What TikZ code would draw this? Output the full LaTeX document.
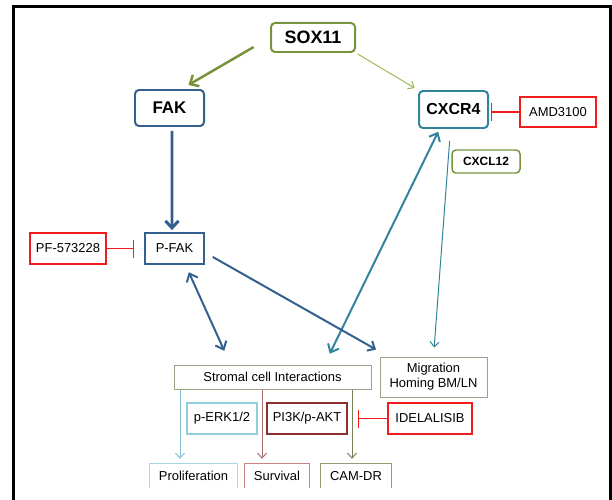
\documentclass[tikz,border=0pt]{standalone}
\usepackage{fontspec}
\setmainfont{Liberation Sans}
\usetikzlibrary{positioning,arrows.meta,calc}
\definecolor{soxGreen}{HTML}{77933C}
\definecolor{soxLight}{HTML}{9BBB59}
\definecolor{fakBlue}{HTML}{34608F}
\definecolor{cxTeal}{HTML}{31849B}
\definecolor{inhRed}{HTML}{F21C1C}
\definecolor{strGrey}{HTML}{9CA283}
\definecolor{erkBlue}{HTML}{93CDDD}
\definecolor{aktRed}{HTML}{8C2F2F}
\definecolor{prolBlue}{HTML}{A8D6E6}
\definecolor{survRed}{HTML}{C98383}
\definecolor{camOlive}{HTML}{76825A}
\definecolor{camEdge}{HTML}{939C74}

\begin{document}
\begin{tikzpicture}[
  x=1bp, y=-1bp,
  font=\fontsize{13}{15}\selectfont,
  rbx/.style={rounded corners=4pt, line width=2pt, inner sep=0pt, font=\fontsize{17}{19}\selectfont\bfseries},
  sbx/.style={line width=1.5pt, inner sep=0pt, minimum height=31bp},
  inh/.style={draw=inhRed, line width=1.5pt, inner sep=0pt, minimum height=31bp},
  thinbx/.style={draw=strGrey, line width=1pt, inner sep=0pt},
  outbx/.style={inner sep=0pt, minimum height=24bp},
  big/.style={-{Straight Barb[length=7bp,width=13bp]}, line width=2.5pt},
  both/.style={{Straight Barb[length=7bp,width=12bp]}-{Straight Barb[length=7bp,width=12bp]}, line width=2pt},
  thin/.style={-{Straight Barb[length=5bp,width=9bp]}, line width=1pt},
  block/.style={-{Bar[width=18bp]}, draw=inhRed, line width=1.2pt},
]
\useasboundingbox (0,0) rectangle (612,500);
\draw[line width=3bp] (13.5,500) -- (13.5,6.5) -- (610.5,6.5) -- (610.5,500);

% =========================== TOP ROW ===========================
\node[rbx, draw=soxGreen, minimum width=84bp, minimum height=29bp, font=\fontsize{18}{20}\selectfont\bfseries] (sox)
  at (313,37.5) {SOX11};
\node[rbx, draw=fakBlue, minimum width=69bp, minimum height=36bp] (fak)
  at (169.5,108) {FAK};
\node[rbx, draw=cxTeal, minimum width=69bp, minimum height=37bp, font=\fontsize{16}{18}\selectfont\bfseries] (cxcr)
  at (453.5,109.5) {CXCR4};
\node[inh, minimum width=76bp, minimum height=30bp] (amd) at (558,112) {AMD3100};
\node[rbx, draw=soxGreen, line width=1.5pt, minimum width=68bp, minimum height=23bp, font=\fontsize{12}{14}\selectfont\bfseries] (cxcl)
  at (486,161.5) {CXCL12};

\draw[big, draw=soxGreen, shorten <=19bp, shorten >=8bp] (sox.west) -- ([xshift=12bp]fak.north);
\draw[thin, draw=soxLight, shorten <=2bp, shorten >=4bp] (sox.south east) -- (cxcr.north west);
\draw[block, shorten >=2bp] (amd.west) -- (amd.west -| cxcr.east);

% =========================== P-FAK ===========================
\node[sbx, draw=fakBlue, line width=1.8pt, minimum width=59bp] (pfak) at (174.5,248.5) {P-FAK};
\node[inh, minimum width=76bp] (pf) at (68,248.5) {PF-573228};

\draw[big, draw=fakBlue, line width=3pt, shorten <=4bp, shorten >=2bp] ([xshift=2.5bp]fak.south) -- ([xshift=-2.5bp]pfak.north);
\draw[block, shorten >=10bp] (pf.east) -- (pfak.west);

% =========================== BOTTOM ===========================
\node[thinbx, minimum width=197bp, minimum height=24bp] (strom) at (272.5,377) {Stromal cell Interactions};
\node[thinbx, minimum width=107bp, minimum height=40bp, align=center] (mig)
  at (433.5,377) {Migration\\Homing BM/LN};
\node[sbx, draw=erkBlue, line width=2pt, minimum width=70bp] (erk) at (222,418.5) {p-ERK1/2};
\node[sbx, draw=aktRed, line width=2.5pt, minimum width=80bp] (akt) at (307,418.5) {PI3K/p-AKT};
\node[inh, minimum width=84bp] (ide) at (430,418.5) {IDELALISIB};
\draw[block, shorten >=10bp] (ide.west) -- (akt.east);

\node[outbx, minimum width=87bp] (prol) at (193.5,476) {Proliferation};
\node[outbx, minimum width=64bp] (surv) at (277,476) {Survival};
\node[outbx, minimum width=70bp] (cam)  at (356,476) {CAM-DR};
\foreach \n/\c in {prol/prolBlue,surv/survRed,cam/camEdge}
  \draw[\c, line width=1pt] (\n.south west) |- (\n.north east) -- (\n.south east);

% cross links
\draw[both, draw=fakBlue, shorten <=8bp, shorten >=15bp] ([xshift=11bp]pfak.south) -- ([xshift=-42bp]strom.north);
\draw[both, draw=cxTeal, shorten <=3bp, shorten >=12bp] ([xshift=-14bp]cxcr.south) -- ([xshift=52bp]strom.north);
\draw[-{Straight Barb[length=6bp,width=11bp]}, draw=fakBlue, line width=2pt, shorten <=9bp, shorten >=4bp]
  ([yshift=-4bp]pfak.east) -- ([yshift=5bp]mig.north west);
\draw[thin, draw=cxTeal, shorten <=12bp, shorten >=9bp] ([xshift=-3bp]cxcr.south) -- (mig.north);

% stromal -> outcomes
\coordinate (px) at ([xshift=-13.5bp]prol.north);
\coordinate (sx) at ([xshift=-15bp]surv.north);
\coordinate (cx) at ([xshift=-4bp]cam.north);
\draw[thin, draw=erkBlue!85!cxTeal, shorten >=5bp] (px |- strom.south) -- (px);
\draw[thin, draw=survRed!85!black, shorten >=5bp] (sx |- strom.south) -- (sx);
\draw[thin, draw=camOlive, shorten >=5bp] (cx |- strom.south) -- (cx);

\end{tikzpicture}
\end{document}
